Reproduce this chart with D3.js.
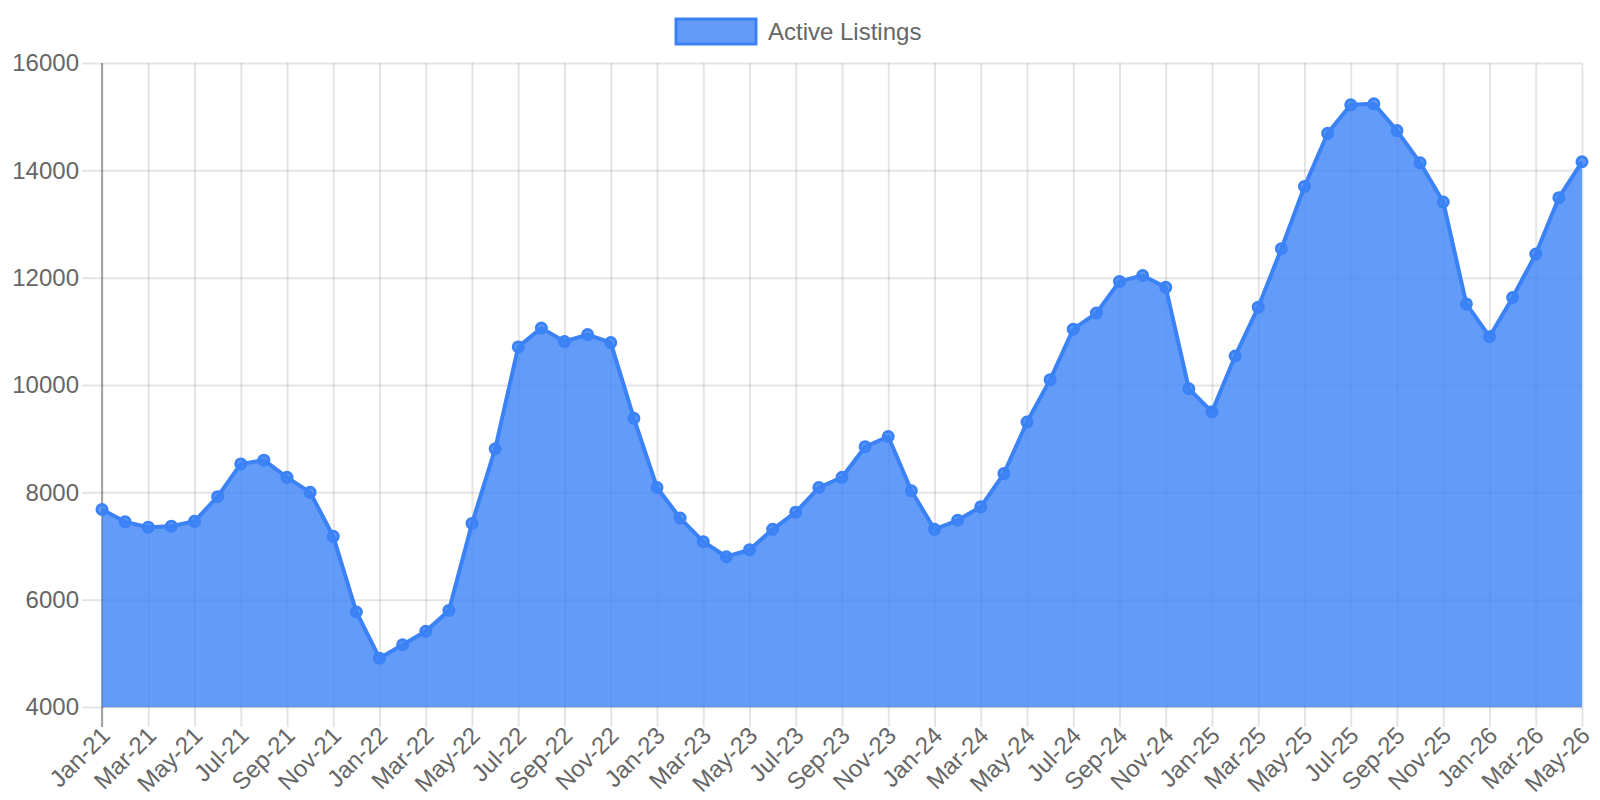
<!DOCTYPE html>
<html>
<head>
<meta charset="utf-8">
<style>
    body {
        margin: 0;
        background: #fff;
    }
    svg {
        display: block;
        font-family: 'Liberation Sans', Arial, sans-serif;
    }
    .axis .domain {
        display: none;
    }
    .axis text {
        fill: #666;
        font-size: 24px;
    }
    .axis line, .grid line {
        stroke: rgba(0, 0, 0, 0.1);
        stroke-width: 2;
    }
    .grid .domain {
        display: none;
    }
</style>
</head>
<body>
<svg width="1600" height="800"></svg>
<script src="https://d3js.org/d3.v7.min.js"></script>
<script>
    // categories (one per month)
    var months = [
        "Jan-21", "Feb-21", "Mar-21", "Apr-21", "May-21", "Jun-21", "Jul-21", "Aug-21", "Sep-21", "Oct-21", "Nov-21", "Dec-21",
        "Jan-22", "Feb-22", "Mar-22", "Apr-22", "May-22", "Jun-22", "Jul-22", "Aug-22", "Sep-22", "Oct-22", "Nov-22", "Dec-22",
        "Jan-23", "Feb-23", "Mar-23", "Apr-23", "May-23", "Jun-23", "Jul-23", "Aug-23", "Sep-23", "Oct-23", "Nov-23", "Dec-23",
        "Jan-24", "Feb-24", "Mar-24", "Apr-24", "May-24", "Jun-24", "Jul-24", "Aug-24", "Sep-24", "Oct-24", "Nov-24", "Dec-24",
        "Jan-25", "Feb-25", "Mar-25", "Apr-25", "May-25", "Jun-25", "Jul-25", "Aug-25", "Sep-25", "Oct-25", "Nov-25", "Dec-25",
        "Jan-26", "Feb-26", "Mar-26", "Apr-26", "May-26"
    ];

    // series values
    var activeListings = [
        7680, 7450, 7350, 7370, 7460, 7920, 8530, 8600, 8280, 8000, 7180, 5770,
        4910, 5160, 5410, 5800, 7420, 8810, 10710, 11060, 10810, 10940, 10790, 9380,
        8090, 7520, 7080, 6800, 6930, 7310, 7630, 8090, 8280, 8850, 9040, 8030,
        7310, 7480, 7730, 8350, 9310, 10100, 11040, 11340, 11930, 12040, 11820, 9930,
        9500, 10540, 11450, 12540, 13700, 14690, 15220, 15240, 14740, 14140, 13410, 11510,
        10900, 11630, 12440, 13490, 14160
    ];

    var yTicks = [4000, 6000, 8000, 10000, 12000, 14000, 16000];
    var seriesName = "Active Listings";

    var data = months.map(function(m, i) { return {month: m, value: activeListings[i]}; });

    var svg = d3.select("svg"),
        margin = {top: 63, right: 18, bottom: 93, left: 102},
        width = +svg.attr("width") - margin.left - margin.right,
        height = +svg.attr("height") - margin.top - margin.bottom,
        g = svg.append("g").attr("transform", "translate(" + margin.left + "," + margin.top + ")");

    var x = d3.scalePoint()
        .domain(months)
        .range([0, width]);

    var y = d3.scaleLinear()
        .domain([d3.min(yTicks), d3.max(yTicks)])
        .range([height, 0]);

    // every other month gets a tick, like the original
    var xTicks = months.filter(function(d, i) { return i % 2 === 0; });

    // grid lines
    g.append("g")
        .attr("class", "grid")
        .call(d3.axisLeft(y).tickValues(yTicks).tickSize(-width).tickFormat(""));

    g.append("g")
        .attr("class", "grid")
        .call(d3.axisBottom(x).tickValues(xTicks).tickSize(-height).tickFormat(""))
        .attr("transform", "translate(0," + height + ")");

    // axis borders
    g.append("line")
        .attr("x1", 0).attr("x2", width)
        .attr("y1", height).attr("y2", height)
        .attr("stroke", "rgba(0,0,0,0.1)")
        .attr("stroke-width", 2);

    g.append("line")
        .attr("x1", 0).attr("x2", 0)
        .attr("y1", 0).attr("y2", height + 20)
        .attr("stroke", "rgba(0,0,0,0.3)")
        .attr("stroke-width", 2);

    // area + line
    var area = d3.area()
        .x(function(d) { return x(d.month); })
        .y0(height)
        .y1(function(d) { return y(d.value); });

    var line = d3.line()
        .x(function(d) { return x(d.month); })
        .y(function(d) { return y(d.value); });

    g.append("path")
        .datum(data)
        .attr("fill", "rgba(59,130,246,0.8)")
        .attr("d", area);

    g.append("path")
        .datum(data)
        .attr("fill", "none")
        .attr("stroke", "#3b82f6")
        .attr("stroke-width", 4)
        .attr("stroke-linejoin", "round")
        .attr("d", line);

    g.append("g")
        .selectAll("circle")
        .data(data)
        .enter().append("circle")
        .attr("cx", function(d) { return x(d.month); })
        .attr("cy", function(d) { return y(d.value); })
        .attr("r", 5)
        .attr("fill", "rgba(59,130,246,0.8)")
        .attr("stroke", "#3b82f6")
        .attr("stroke-width", 3);

    // y axis
    g.append("g")
        .attr("class", "axis")
        .call(d3.axisLeft(y).tickValues(yTicks).tickSize(20).tickPadding(3).tickFormat(d3.format("d")));

    // x axis
    g.append("g")
        .attr("class", "axis")
        .attr("transform", "translate(0," + height + ")")
        .call(d3.axisBottom(x).tickValues(xTicks).tickSize(20))
        .selectAll("text")
        .attr("x", 0)
        .attr("y", 0)
        .attr("dy", "0.35em")
        .attr("transform", "translate(3,24) rotate(-45)")
        .style("text-anchor", "end");

    // legend
    var legend = svg.append("g")
        .attr("transform", "translate(676,19)");

    legend.append("rect")
        .attr("width", 80)
        .attr("height", 25)
        .attr("fill", "rgba(59,130,246,0.8)")
        .attr("stroke", "#3b82f6")
        .attr("stroke-width", 3);

    legend.append("text")
        .attr("x", 92)
        .attr("y", 12.5)
        .attr("dy", "0.35em")
        .attr("fill", "#666")
        .style("font-size", "24px")
        .text(seriesName);
</script>
</body>
</html>
